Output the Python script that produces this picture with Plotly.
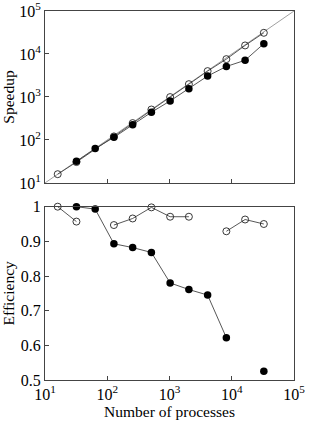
import plotly.graph_objects as go
from plotly.subplots import make_subplots

# Data
procs = [16, 32, 64, 128, 256, 512, 1024, 2048, 4096, 8192, 16384, 32768]
speedup_open = [16, 30.6, None, 121, 247, 511, 994, 1988, 4000, 7600, 15800, 31100]
speedup_filled = [None, 32, 63, 115, 225, 441, 809, 1550, 3070, 5120, 7140, 17400]
eff_open = [1.0, 0.957, None, 0.947, 0.966, 0.998, 0.971, 0.971, None, 0.929, 0.963, 0.950]
eff_filled = [None, 1.0, 0.993, 0.893, 0.882, 0.868, 0.780, 0.761, 0.745, 0.622, None, 0.525]
ideal_x = [10, 100000]
ideal_y = [10, 100000]
x_ticks = [10, 100, 1000, 10000, 100000]
x_ticktext = ["10<sup>1</sup>", "10<sup>2</sup>", "10<sup>3</sup>", "10<sup>4</sup>", "10<sup>5</sup>"]
sp_ticks = [10, 100, 1000, 10000, 100000]
sp_ticktext = x_ticktext
eff_ticks = [0.5, 0.6, 0.7, 0.8, 0.9, 1.0]
eff_ticktext = ["0.5", "0.6", "0.7", "0.8", "0.9", "1"]

FONT = "Liberation Serif"
LINE = "#444444"

fig = make_subplots(rows=2, cols=1, vertical_spacing=0.064)

fig.add_trace(go.Scatter(x=ideal_x, y=ideal_y, mode="lines",
                         line=dict(color="#777777", width=0.7), showlegend=False), row=1, col=1)
fig.add_trace(go.Scatter(x=procs, y=speedup_open, mode="lines+markers", connectgaps=True,
                         line=dict(color=LINE, width=0.9),
                         marker=dict(symbol="circle-open", size=7, color="#222222", line=dict(width=0.9)),
                         showlegend=False), row=1, col=1)
fig.add_trace(go.Scatter(x=procs, y=speedup_filled, mode="lines+markers",
                         line=dict(color=LINE, width=0.9),
                         marker=dict(symbol="circle", size=7.5, color="black"),
                         showlegend=False), row=1, col=1)

fig.add_trace(go.Scatter(x=procs, y=eff_open, mode="lines+markers", connectgaps=False,
                         line=dict(color=LINE, width=0.9),
                         marker=dict(symbol="circle-open", size=7, color="#222222", line=dict(width=0.9)),
                         showlegend=False, cliponaxis=False), row=2, col=1)
fig.add_trace(go.Scatter(x=procs, y=eff_filled, mode="lines+markers", connectgaps=False,
                         line=dict(color=LINE, width=0.9),
                         marker=dict(symbol="circle", size=7.5, color="black"),
                         showlegend=False, cliponaxis=False), row=2, col=1)

axis_common = dict(showgrid=False, zeroline=False, showline=True, linecolor=LINE, linewidth=1,
                   mirror=True, ticks="inside", ticklen=4, tickcolor=LINE, tickwidth=0.8,
                   automargin=False, ticklabeloverflow="allow",
                   tickfont=dict(family=FONT, size=16, color="black"))

title_font = dict(family=FONT, size=15.5, color="black")

fig.update_xaxes(type="log", range=[1, 5], tickvals=x_ticks, ticktext=x_ticktext, **axis_common)
fig.update_xaxes(showticklabels=False, row=1, col=1)
fig.update_xaxes(title=dict(text="Number of processes", font=title_font, standoff=2), row=2, col=1)
fig.update_yaxes(type="log", range=[1, 5], tickvals=sp_ticks, ticktext=sp_ticktext,
                 title=dict(text="Speedup", font=title_font, standoff=2),
                 row=1, col=1, **axis_common)
fig.update_yaxes(range=[0.5, 1.0], tickvals=eff_ticks, ticktext=eff_ticktext,
                 title=dict(text="Efficiency", font=title_font, standoff=2),
                 row=2, col=1, **axis_common)

fig.update_layout(width=309, height=424, margin=dict(l=45, r=15, t=11, b=44),
                  paper_bgcolor="white", plot_bgcolor="white",
                  yaxis=dict(domain=[0.534, 1.0]), yaxis2=dict(domain=[0.0, 0.4697]))

fig.write_html("out.html", config={"displayModeBar": False},
               post_script="document.body.style.margin='0';document.body.style.overflow='hidden';")
